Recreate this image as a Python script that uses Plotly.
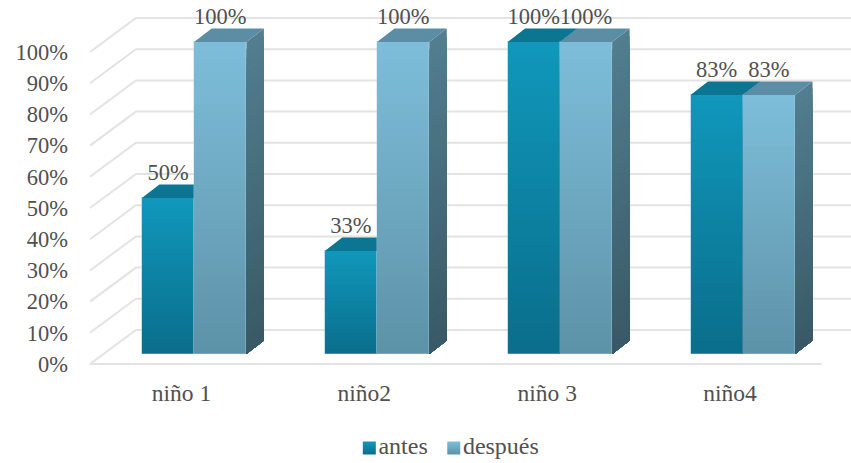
import plotly.graph_objects as go

# Chart data
categories = ["niño 1", "niño2", "niño 3", "niño4"]
antes = [0.50, 0.33, 1.00, 0.83]
despues = [1.00, 1.00, 1.00, 0.83]
value_labels_antes = ["50%", "33%", "100%", "83%"]
value_labels_despues = ["100%", "100%", "100%", "83%"]
y_ticks = [0.0, 0.1, 0.2, 0.3, 0.4, 0.5, 0.6, 0.7, 0.8, 0.9, 1.0]
y_tick_labels = ["0%", "10%", "20%", "30%", "40%", "50%", "60%", "70%", "80%", "90%", "100%"]

# Scales of the oblique projection, in pixels per axis unit
PX_PER_CAT = 183.0
PX_PER_VAL = 312.0
LEFT, FLOOR = 89.5, 364.0
WIDTH, HEIGHT = 851, 463

WALL_DX, WALL_DY = 46 / PX_PER_CAT, 34 / PX_PER_VAL
LIFT_X, LIFT_Y = 12.7 / PX_PER_CAT, 10 / PX_PER_VAL
DEPTH_X, DEPTH_Y = 17.5 / PX_PER_CAT, 13.5 / PX_PER_VAL
BAR_W = 52.3 / PX_PER_CAT

# The plot area fills the page below and to the right of the axes' origin
X_RANGE = [-0.5, -0.5 + (WIDTH - LEFT) / PX_PER_CAT]
Y_RANGE = [(FLOOR - HEIGHT) / PX_PER_VAL, FLOOR / PX_PER_VAL]

FONT = "Liberation Serif"
TEXT = "#505050"
GRID = "#E3E3E3"
SIZE_NUM = 22.5
SIZE_WORD = 23.5
SIZE_KEY = 24

STYLES = {
    "antes": dict(front=("#1098BC", "#0A6D8B"), side=("#0B6F8C", "#074F64"), top="#0B7592",
                  edge="rgba(120,190,210,0.45)"),
    "después": dict(front=("#7EBEDA", "#5D92A8"), side=("#527E90", "#395965"), top="#5B8EA5",
                    edge="rgba(170,210,225,0.35)"),
}
SLICES = 40


def mix(c1, c2, t):
    a = [int(c1[i:i + 2], 16) for i in (1, 3, 5)]
    b = [int(c2[i:i + 2], 16) for i in (1, 3, 5)]
    return "rgb(%d,%d,%d)" % tuple(round(p + (q - p) * t) for p, q in zip(a, b))


fig = go.Figure()

# Back wall, left side wall and floor edge
gx, gy = [], []
for v in y_ticks:
    gx += [-0.5, -0.5 + WALL_DX, 3.5 + WALL_DX, None]
    gy += [v, v + WALL_DY, v + WALL_DY, None]
gx += [-0.5, 3.5]
gy += [0, 0]
fig.add_trace(go.Scatter(x=gx, y=gy, mode="lines", line=dict(color=GRID, width=2),
                         hoverinfo="skip", showlegend=False, xaxis="x", yaxis="y"))


def add_series(name, values, shift, xa, ya):
    st = STYLES[name]
    centers = [i + LIFT_X + shift for i in range(len(categories))]

    # Front faces as stacked slices forming a vertical gradient
    sx, sb, sh, sc = [], [], [], []
    for cx, v in zip(centers, values):
        for k in range(SLICES):
            sx.append(cx)
            sb.append(LIFT_Y + v * k / SLICES)
            sh.append(v / SLICES)
            sc.append(mix(st["front"][1], st["front"][0], (k + 0.5) / SLICES))
    fig.add_trace(go.Bar(x=sx, y=sh, base=sb, width=BAR_W, marker=dict(color=sc, line=dict(width=0)),
                         hoverinfo="skip", showlegend=False, xaxis=xa, yaxis=ya))

    # Outline of each front face, holding the actual values
    fig.add_trace(go.Bar(x=centers, y=values, base=[LIFT_Y] * len(values), width=BAR_W, name=name,
                         marker=dict(color="rgba(0,0,0,0)", line=dict(color=st["edge"], width=1)),
                         showlegend=False, xaxis=xa, yaxis=ya))

    # Right side faces: painted from the tallest level down so the levels overlap cleanly
    for k in range(SLICES - 1, -1, -1):
        px, py = [], []
        for cx, v in zip(centers, values):
            r = cx + BAR_W / 2
            y0 = LIFT_Y
            y1 = LIFT_Y + v * (k + 1) / SLICES
            px += [r, r + DEPTH_X, r + DEPTH_X, r, r, None]
            py += [y0, y0 + DEPTH_Y, y1 + DEPTH_Y, y1, y0, None]
        fig.add_trace(go.Scatter(x=px, y=py, mode="none", fill="toself",
                                 fillcolor=mix(st["side"][1], st["side"][0], (k + 0.5) / SLICES),
                                 hoverinfo="skip", showlegend=False, xaxis=xa, yaxis=ya))

    # Top faces
    px, py = [], []
    for cx, v in zip(centers, values):
        l, r, y0 = cx - BAR_W / 2, cx + BAR_W / 2, LIFT_Y + v
        px += [l, r, r + DEPTH_X, l + DEPTH_X, l, None]
        py += [y0, y0, y0 + DEPTH_Y, y0 + DEPTH_Y, y0, None]
    fig.add_trace(go.Scatter(x=px, y=py, mode="none", fill="toself",
                             fillcolor=st["top"], hoverinfo="skip", showlegend=False, xaxis=xa, yaxis=ya))
    return centers


c_antes = add_series("antes", antes, -BAR_W / 2, "x2", "y2")
c_desp = add_series("después", despues, BAR_W / 2, "x3", "y3")

# Value labels above the front edge of each bar
LABEL_GAP = 24 / PX_PER_VAL
for centers, values, labels in ((c_antes, antes, value_labels_antes), (c_desp, despues, value_labels_despues)):
    fig.add_trace(go.Scatter(x=centers, y=[LIFT_Y + v + LABEL_GAP for v in values], text=labels,
                             mode="text", textposition="middle center",
                             textfont=dict(family=FONT, size=SIZE_NUM, color=TEXT), cliponaxis=False,
                             hoverinfo="skip", showlegend=False, xaxis="x3", yaxis="y3"))


# Key below the chart, placed by page pixels
def px_x(p):
    return -0.5 + (p - LEFT) / PX_PER_CAT


def px_y(p):
    return (FLOOR - p) / PX_PER_VAL


for name, sw_x in (("antes", 369.0), ("después", 453.5)):
    st = STYLES[name]
    fig.add_trace(go.Scatter(x=[px_x(sw_x)], y=[px_y(448)], mode="markers+text", text=[name],
                             textposition="middle right", cliponaxis=False,
                             textfont=dict(family=FONT, size=SIZE_KEY, color=TEXT),
                             marker=dict(symbol="square", size=13, color=st["front"][0], line=dict(width=0),
                                         gradient=dict(type="vertical", color=st["front"][1])),
                             hoverinfo="skip", showlegend=False, xaxis="x3", yaxis="y3"))

overlay = dict(range=X_RANGE, visible=False, domain=[LEFT / WIDTH, 1], anchor="y")
overlay_y = dict(range=Y_RANGE, visible=False, anchor="x", domain=[0, 1])

fig.update_layout(
    width=WIDTH, height=HEIGHT, autosize=False,
    margin=dict(l=LEFT, r=0, t=0, b=0),
    paper_bgcolor="white", plot_bgcolor="white",
    barmode="overlay", showlegend=False, bargap=0,
    font=dict(family=FONT, size=SIZE_NUM, color=TEXT),
    xaxis=dict(range=X_RANGE, tickmode="array", tickvals=list(range(4)), ticktext=categories,
               anchor="free", position=(HEIGHT - FLOOR) / HEIGHT,
               showgrid=False, zeroline=False, showline=False, ticks="", ticklabelstandoff=12,
               tickfont=dict(family=FONT, size=SIZE_WORD, color=TEXT)),
    yaxis=dict(range=Y_RANGE, tickmode="array", tickvals=y_ticks, ticktext=y_tick_labels,
               showgrid=False, zeroline=False, showline=False, ticks="", ticklabelstandoff=21,
               tickfont=dict(family=FONT, size=SIZE_NUM, color=TEXT)),
    xaxis2=dict(overlaying="x", **overlay),
    yaxis2=dict(overlaying="y", **overlay_y),
    xaxis3=dict(overlaying="x", **overlay),
    yaxis3=dict(overlaying="y", **overlay_y),
)

fig.write_html("out.html")
